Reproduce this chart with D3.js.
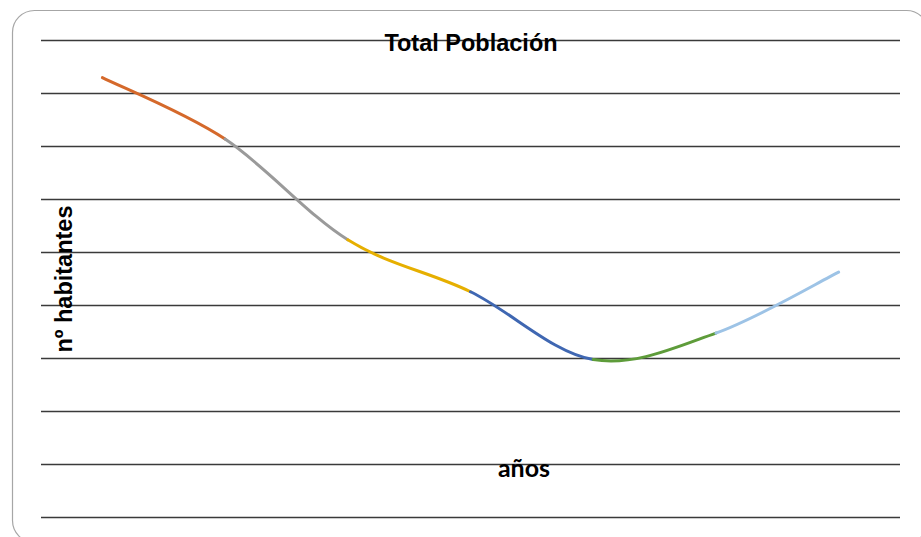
<!DOCTYPE html>
<html>
<head>
<meta charset="utf-8">
<script src="https://cdn.jsdelivr.net/npm/d3@7"></script>
<style>
  html, body { margin: 0; padding: 0; background: #ffffff; }
  svg { display: block; }
</style>
</head>
<body>
<svg id="chart" width="921" height="537"></svg>
<script>
// ---- data ----
const categories = ["1", "2", "3", "4", "5", "6", "7"];
const values = [8.29, 7.13, 5.23, 4.25, 2.97, 3.47, 4.62];
const yTicks = [0, 1, 2, 3, 4, 5, 6, 7, 8, 9];
const segmentColors = ["#D5692B", "#9A9A9A", "#E6AF00", "#3F67B2", "#5E9C3A", "#9DC3E6"];
const titleText = "Total Población";
const xLabel = "años";
const yLabel = "nº habitantes";

// ---- layout ----
const W = 921, H = 537;
const plot = { left: 41, right: 900, top: 40, bottom: 517 };

const svg = d3.select("#chart");

// frame
svg.append("rect")
  .attr("x", 12.5).attr("y", 10.5)
  .attr("width", 916).attr("height", 532)
  .attr("rx", 22).attr("ry", 22)
  .attr("fill", "#ffffff")
  .attr("stroke", "#a6a6a6")
  .attr("stroke-width", 1.2);

const x = d3.scaleBand().domain(categories).range([plot.left, plot.right]).padding(0);
const y = d3.scaleLinear().domain([0, 9]).range([plot.bottom, plot.top]);

// gridlines
const yAxis = d3.axisLeft(y).tickValues(yTicks).tickSize(-(plot.right - plot.left)).tickFormat("");
const gy = svg.append("g").attr("transform", `translate(${plot.left},0)`).call(yAxis);
gy.select(".domain").remove();
gy.selectAll(".tick line").attr("stroke", "#3a3a3a").attr("stroke-width", 1.4);

// title
svg.append("text")
  .attr("x", 471).attr("y", 51)
  .attr("text-anchor", "middle")
  .attr("font-family", "Liberation Sans, Arial, sans-serif")
  .attr("font-weight", "bold")
  .attr("font-size", 23.5)
  .attr("fill", "#000")
  .text(titleText);

// y label
svg.append("text")
  .attr("transform", `translate(72,279) rotate(-90)`)
  .attr("text-anchor", "middle")
  .attr("font-family", "Liberation Sans, Arial, sans-serif")
  .attr("font-weight", "bold")
  .attr("font-size", 23.5)
  .attr("fill", "#000")
  .text(yLabel);

// x label
svg.append("text")
  .attr("x", 524).attr("y", 477)
  .attr("text-anchor", "middle")
  .attr("font-family", "Lato, Open Sans, sans-serif")
  .attr("font-weight", "bold")
  .attr("font-size", 25)
  .attr("fill", "#000")
  .text(xLabel);

// smoothed line, coloured per segment
const pts = categories.map((c, i) => [x(c) + x.bandwidth() / 2, y(values[i])]);
const n = pts.length;
const P = i => pts[Math.max(0, Math.min(n - 1, i))];
const g = svg.append("g");
for (let i = 0; i < n - 1; i++) {
  const p0 = P(i - 1), p1 = P(i), p2 = P(i + 1), p3 = P(i + 2);
  const c1 = [p1[0] + (p2[0] - p0[0]) / 6, p1[1] + (p2[1] - p0[1]) / 6];
  const c2 = [p2[0] - (p3[0] - p1[0]) / 6, p2[1] - (p3[1] - p1[1]) / 6];
  const path = d3.path();
  path.moveTo(p1[0], p1[1]);
  path.bezierCurveTo(c1[0], c1[1], c2[0], c2[1], p2[0], p2[1]);
  g.append("path")
    .attr("d", path.toString())
    .attr("fill", "none")
    .attr("stroke", segmentColors[i])
    .attr("stroke-width", 3)
    .attr("stroke-linecap", "round");
}
</script>
</body>
</html>
